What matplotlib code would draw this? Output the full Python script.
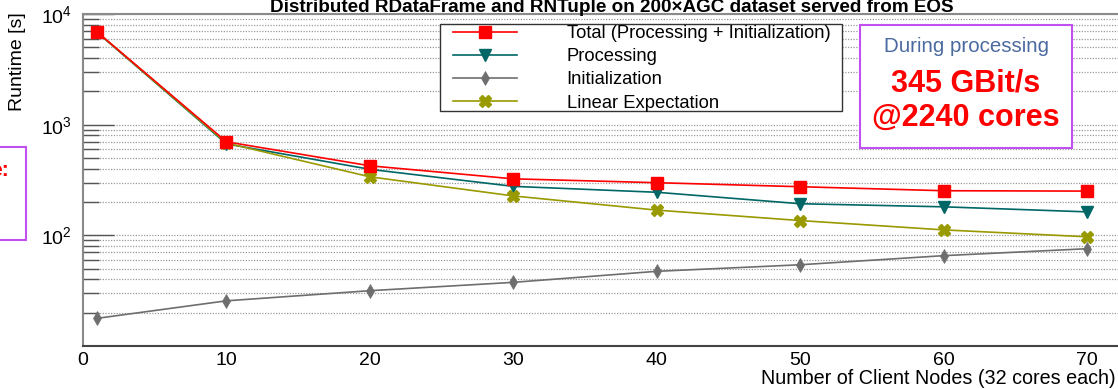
import numpy as np
import matplotlib
matplotlib.use("Agg")
import matplotlib.pyplot as plt
from matplotlib.ticker import FixedLocator, NullFormatter
from matplotlib.patches import Rectangle

plt.rcParams['font.family'] = ['Liberation Sans', 'DejaVu Sans']
plt.rcParams['mathtext.fontset'] = 'custom'
plt.rcParams['mathtext.rm'] = 'Liberation Sans'
plt.rcParams['mathtext.it'] = 'Liberation Sans'

# client nodes and measured runtimes [s]
nodes = [1, 10, 20, 30, 40, 50, 60, 70]
total = [6850, 700, 425, 324, 299, 275, 253, 251]
processing = [6800, 670, 395, 277, 245, 193, 181, 163]
initialization = [17.8, 25.6, 31.6, 37.6, 47.3, 54.2, 65.5, 75.7]
linear = [6820, 682, 338, 227, 169, 136, 112, 97]

series_labels = ["Total (Processing + Initialization)", "Processing",
                 "Initialization", "Linear Expectation"]
title = "Distributed RDataFrame and RNTuple on 200\u00d7AGC dataset served from EOS"

W, H = 1118, 389
fig = plt.figure(figsize=(W / 100, H / 100), dpi=100)
ax = fig.add_axes([83 / W, 43 / H, 1047 / W, 332 / H])

ax.plot(nodes, total, color='#ff0000', lw=1.2, marker='s', ms=8, mec='#ff0000', zorder=5)
ax.plot(nodes, processing, color='#006666', lw=1.2, marker='v', ms=9, mec='#006666', zorder=4)
ax.plot(nodes, initialization, color='#6e6e6e', lw=1.2, marker='d', ms=7,
        markeredgewidth=0.5, mec='#6e6e6e', zorder=3)
ax.plot(nodes, linear, color='#999900', lw=1.2, marker='X', ms=8, mec='#999900', zorder=4)

ax.set_yscale('log')
ax.set_ylim(10, 1e4)
ax.set_xlim(0, 73)

# y ticks: decades labelled, everything else as minor ticks
majors = [100, 1000, 10000]
minors = [m * 10 ** d for d in (1, 2, 3) for m in range(2, 10)]
ax.yaxis.set_major_locator(FixedLocator(majors))
ax.yaxis.set_minor_locator(FixedLocator(minors))
ax.yaxis.set_minor_formatter(NullFormatter())
ax.set_yticklabels([r'$10^{2}$', r'$10^{3}$', r'$10^{4}$'])
ax.tick_params(axis='y', which='major', direction='in', length=22, width=1.0,
               color='#555555', labelsize=14, pad=8)
ax.tick_params(axis='y', which='minor', direction='in', length=11.5, width=1.0,
               color='#555555')
ax.set_xticks([0, 10, 20, 30, 40, 50, 60, 70])
ax.tick_params(axis='x', length=0, labelsize=14, pad=4)

for v in majors + minors:
    ax.axhline(v, color='#9a9a9a', lw=0.9, ls=(0, (1, 1.2)), zorder=1)

for side in ('left', 'top'):
    ax.spines[side].set_color('#8a8a8a')
    ax.spines[side].set_linewidth(1.5)
ax.spines['bottom'].set_color('#444444')
ax.spines['bottom'].set_linewidth(1.5)
ax.spines['right'].set_visible(False)

fig.text(18 / W, 1 - 12 / H, "Runtime [s]", rotation=90, ha='center', va='top', fontsize=14)
fig.text(1116 / W, 1 - 384 / H, "Number of Client Nodes (32 cores each)",
         ha='right', va='baseline', fontsize=14.2)
fig.text(612 / W, 1 - 12 / H, title, ha='center', va='baseline', fontsize=13.6,
         fontweight='bold')

# legend frame drawn separately so the padding can differ per side
frame = Rectangle((440 / W, 1 - 111 / H), 402 / W, 87 / H, transform=fig.transFigure,
                  facecolor='white', edgecolor='#333333', lw=1.0, zorder=6, clip_on=False)
ax.add_patch(frame)
leg = ax.legend(series_labels, loc='upper left', bbox_to_anchor=(453 / W, 1 - 25 / H),
                bbox_transform=fig.transFigure, borderaxespad=0, frameon=False,
                fontsize=13.2, handlelength=3.5, labelspacing=0.34, borderpad=0,
                handletextpad=2.7)
leg.set_zorder(7)

# annotation boxes
box = Rectangle((860 / W, 1 - 148 / H), 212 / W, 123 / H, transform=fig.transFigure,
                facecolor='white', edgecolor='#c050f0', lw=1.5, zorder=10)
fig.patches.append(box)
fig.text(966 / W, 1 - 47 / H, "During processing", ha='center', va='center',
         fontsize=14.8, color='#4a6aa0', zorder=11)
fig.text(966 / W, 1 - 83 / H, "345 GBit/s", ha='center', va='center',
         fontsize=22, color='#ff0000', fontweight='bold', zorder=11)
fig.text(966 / W, 1 - 118 / H, "@2240 cores", ha='center', va='center',
         fontsize=22, color='#ff0000', fontweight='bold', zorder=11)

side_box = Rectangle((-20 / W, 1 - 240 / H), 46 / W, 93 / H, transform=fig.transFigure,
                     facecolor='white', edgecolor='#c050f0', lw=1.5, zorder=10)
fig.patches.append(side_box)
fig.text(9 / W, 1 - 170 / H, "e:", ha='right', va='center', fontsize=15,
         color='#ff0000', fontweight='bold', zorder=11)

fig.savefig("out.png", dpi=100)
